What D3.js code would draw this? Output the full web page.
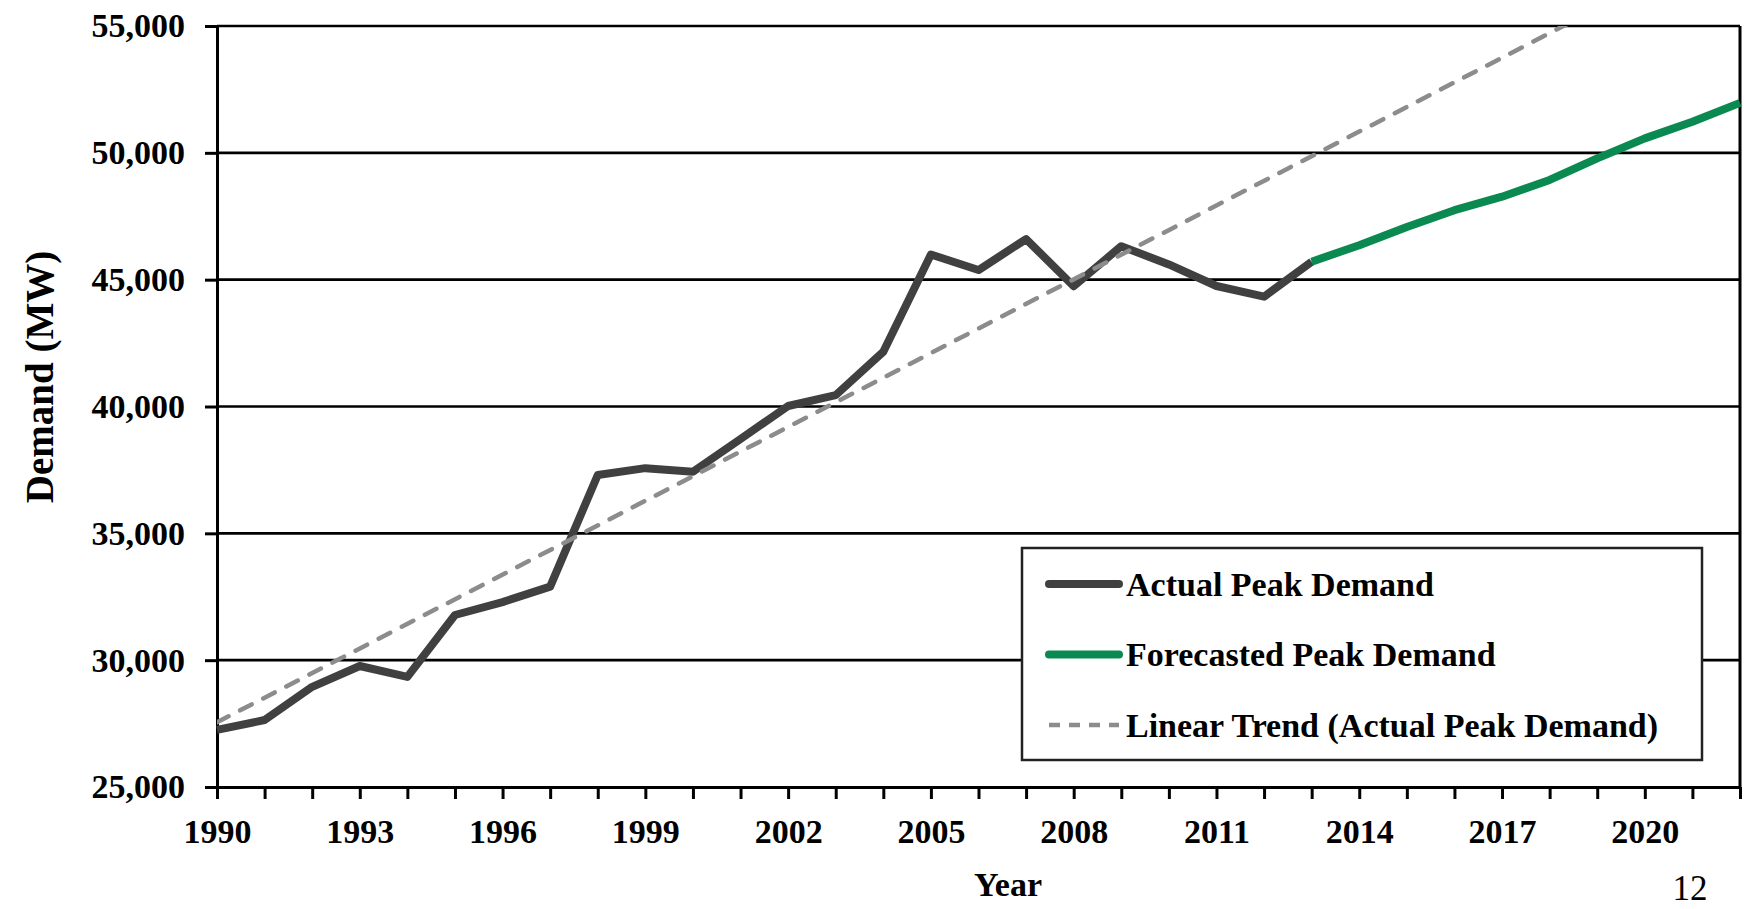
<!DOCTYPE html>
<html>
<head>
    <meta charset="utf-8" />
    <title>Peak Demand</title>
</head>

<style>
    body {
        margin: 0;
        background-color: #FFFFFF;
    }

    text {
        font-family: "Liberation Serif", "Times New Roman", serif;
        font-weight: bold;
        fill: #000000;
    }

    text.page-no {
        font-weight: normal;
    }

    .axis path,
    .axis line {
        fill: none;
        stroke: #000000;
        stroke-width: 3px;
    }

    .axis text {
        font-size: 34px;
    }

    .grid line {
        stroke: #000000;
        stroke-width: 2.6px;
    }
</style>

<body>
    <svg id="chart" width="1748" height="909"></svg>
    <script src="https://d3js.org/d3.v7.min.js"></script>

    <script>
        // values
        var actualYears = [1990, 1991, 1992, 1993, 1994, 1995, 1996, 1997, 1998, 1999, 2000, 2001,
            2002, 2003, 2004, 2005, 2006, 2007, 2008, 2009, 2010, 2011, 2012, 2013];
        var actualValues = [27250, 27640, 28950, 29770, 29340, 31780, 32290, 32900, 37300, 37570, 37430, 38720,
            40020, 40450, 42160, 45990, 45380, 46600, 44740, 46320, 45600, 44750, 44330, 45710];

        var forecastYears = [2013, 2014, 2015, 2016, 2017, 2018, 2019, 2020, 2021, 2022];
        var forecastValues = [45710, 46360, 47080, 47740, 48270, 48930, 49780, 50570, 51225, 51970];

        // linear trend end points (clipped at the top of the plot)
        var trendYears = [1990, 2022];
        var trendValues = [27550, 58600];

        var yTicks = [25000, 30000, 35000, 40000, 45000, 50000, 55000];
        var xTickLabels = [1990, 1993, 1996, 1999, 2002, 2005, 2008, 2011, 2014, 2017, 2020];
        var seriesNames = ["Actual Peak Demand", "Forecasted Peak Demand", "Linear Trend (Actual Peak Demand)"];

        var margin = {
            top: 26,
            right: 8,
            bottom: 122,
            left: 217
        };

        var width = 1748 - margin.left - margin.right,
            height = 909 - margin.top - margin.bottom;

        var svg = d3.select("#chart");

        var g = svg.append("g")
            .attr("transform", "translate(" + margin.left + "," + margin.top + ")");

        var x = d3.scaleLinear().domain([1990, 2022]).range([0, width]);
        var y = d3.scaleLinear().domain([25000, 55000]).range([height, 0]);

        // gridlines
        g.append("g")
            .attr("class", "grid")
            .selectAll("line")
            .data(yTicks.slice(1))
            .enter().append("line")
            .attr("x1", 0)
            .attr("x2", width)
            .attr("y1", function(d) { return y(d); })
            .attr("y2", function(d) { return y(d); });

        // right border
        g.append("line")
            .attr("x1", width).attr("x2", width)
            .attr("y1", 0).attr("y2", height)
            .attr("stroke", "#000")
            .attr("stroke-width", 3);

        var yAxis = d3.axisLeft(y)
            .tickValues(yTicks)
            .tickSize(12)
            .tickSizeOuter(0)
            .tickPadding(20)
            .tickFormat(d3.format(","));

        g.append("g")
            .attr("class", "y axis")
            .call(yAxis);

        var xAxis = d3.axisBottom(x)
            .tickValues(d3.range(1990, 2023))
            .tickSize(12)
            .tickSizeOuter(0)
            .tickPadding(20)
            .tickFormat(function(d) {
                return xTickLabels.indexOf(d) >= 0 ? d : "";
            });

        g.append("g")
            .attr("class", "x axis")
            .attr("transform", "translate(0," + height + ")")
            .call(xAxis);

        g.append("clipPath")
            .attr("id", "plot-clip")
            .append("rect")
            .attr("x", 0).attr("y", 0)
            .attr("width", width).attr("height", height);

        var line = d3.line()
            .x(function(d) { return x(d[0]); })
            .y(function(d) { return y(d[1]); });

        var actual = d3.zip(actualYears, actualValues);
        var forecast = d3.zip(forecastYears, forecastValues);
        var trend = d3.zip(trendYears, trendValues);

        g.append("path")
            .datum(actual)
            .attr("d", line)
            .attr("fill", "none")
            .attr("stroke", "#404040")
            .attr("stroke-width", 8)
            .attr("stroke-linejoin", "round");

        g.append("path")
            .datum(forecast)
            .attr("d", line)
            .attr("fill", "none")
            .attr("stroke", "#0A8A50")
            .attr("stroke-width", 8)
            .attr("stroke-linejoin", "round");

        g.append("path")
            .datum(trend)
            .attr("d", line)
            .attr("clip-path", "url(#plot-clip)")
            .attr("fill", "none")
            .attr("stroke", "#8C8C8C")
            .attr("stroke-width", 4.5)
            .attr("stroke-linecap", "round")
            .attr("stroke-dasharray", "13,13");

        // legend
        var legend = svg.append("g")
            .attr("transform", "translate(1022,548)");

        legend.append("rect")
            .attr("width", 680)
            .attr("height", 212)
            .attr("fill", "#FFFFFF")
            .attr("stroke", "#222")
            .attr("stroke-width", 2.5);

        var legendStyles = [
            { color: "#404040", w: 8, dash: null, cap: "round" },
            { color: "#0A8A50", w: 8, dash: null, cap: "round" },
            { color: "#8C8C8C", w: 4.5, dash: "11,9", cap: "butt" }
        ];

        var rows = legend.selectAll(".row")
            .data(seriesNames)
            .enter().append("g")
            .attr("class", "row")
            .attr("transform", function(d, i) { return "translate(0," + (36 + i * 70.5) + ")"; });

        rows.append("line")
            .attr("x1", 27).attr("x2", 97)
            .attr("stroke", function(d, i) { return legendStyles[i].color; })
            .attr("stroke-width", function(d, i) { return legendStyles[i].w; })
            .attr("stroke-linecap", function(d, i) { return legendStyles[i].cap; })
            .attr("stroke-dasharray", function(d, i) { return legendStyles[i].dash; });

        rows.append("text")
            .attr("x", 104)
            .attr("dy", "0.34em")
            .attr("font-size", "34px")
            .text(function(d) { return d; });

        // axis titles
        svg.append("text")
            .attr("transform", "translate(39,377) rotate(-90)")
            .attr("text-anchor", "middle")
            .attr("dy", "0.35em")
            .attr("font-size", "39px")
            .text("Demand (MW)");

        svg.append("text")
            .attr("x", 1008)
            .attr("y", 896)
            .attr("text-anchor", "middle")
            .attr("font-size", "34px")
            .text("Year");

        svg.append("text")
            .attr("class", "page-no")
            .attr("x", 1690)
            .attr("y", 900)
            .attr("text-anchor", "middle")
            .attr("font-size", "35px")
            .text("12");
    </script>
</body>
</html>
